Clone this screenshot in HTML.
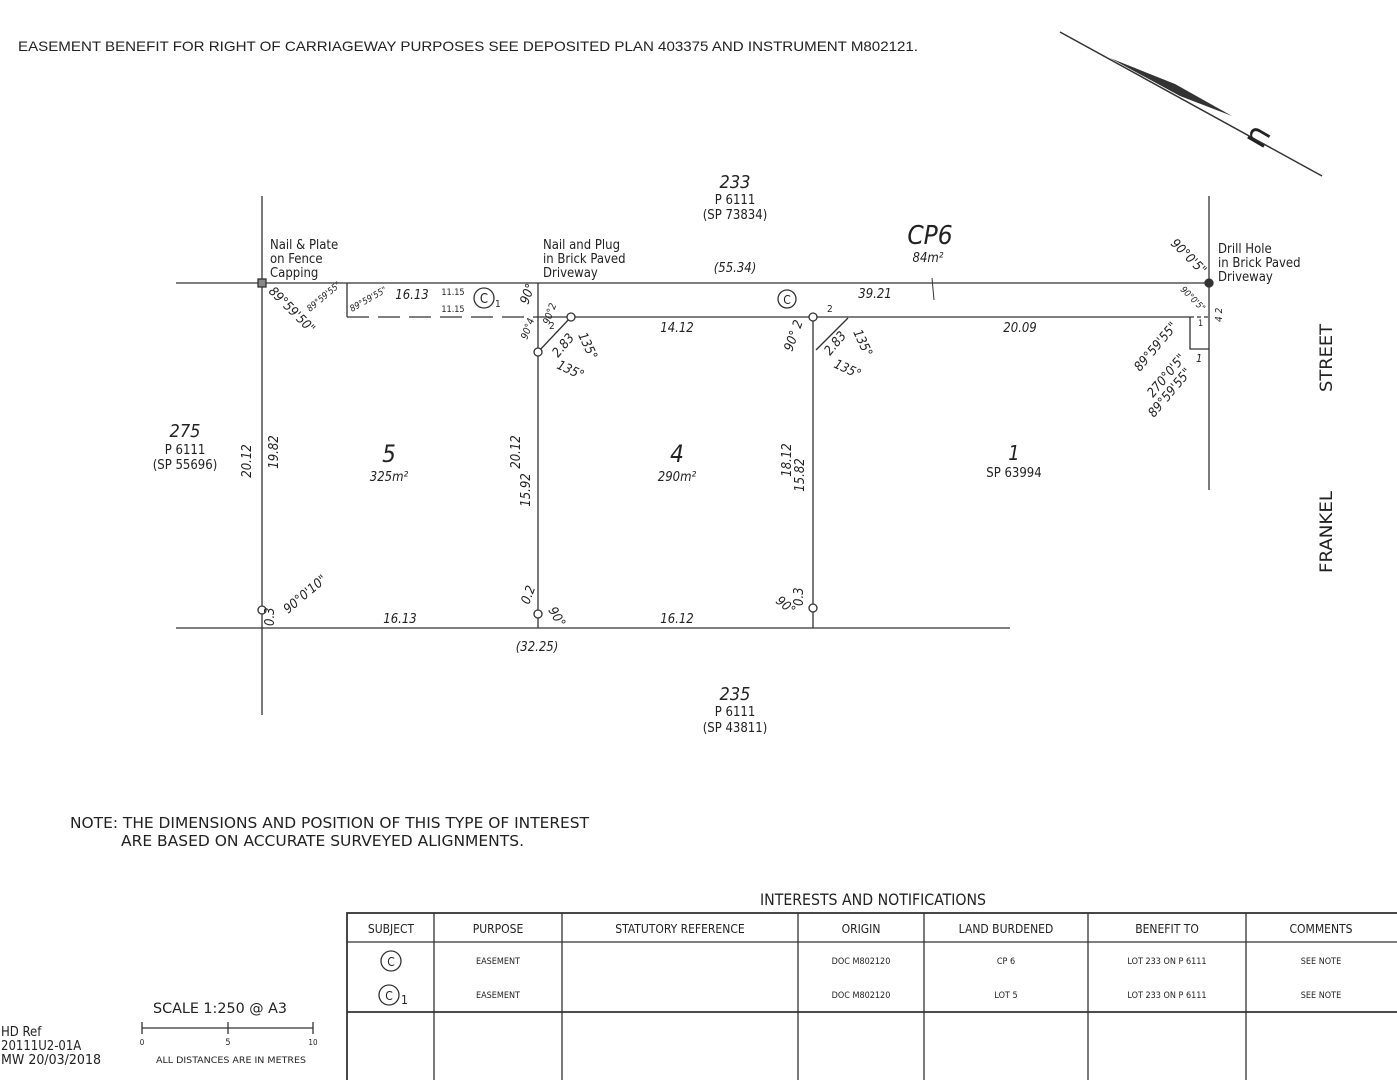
<!DOCTYPE html>
<html><head><meta charset="utf-8"><style>
html,body{margin:0;padding:0;background:#fff;}
svg{display:block;}
text{font-family:"DejaVu Sans Condensed","Liberation Sans Narrow","Liberation Sans",sans-serif;fill:#222;}
.i{font-style:italic;}
</style></head><body>
<svg width="1397" height="1080" viewBox="0 0 1397 1080" xmlns="http://www.w3.org/2000/svg">
<g stroke="#333" fill="none" stroke-width="1.3">
<line x1="176" y1="283" x2="1210" y2="283"/>
<line x1="262" y1="196" x2="262" y2="715"/>
<line x1="1209" y1="196" x2="1209" y2="490"/>
<line x1="176" y1="628" x2="1010" y2="628"/>
<line x1="538" y1="283" x2="538" y2="628"/>
<line x1="813" y1="317" x2="813" y2="628"/>
<line x1="538" y1="317" x2="1190" y2="317"/>
<line x1="347" y1="317" x2="538" y2="317" stroke-dasharray="22,9"/>
<line x1="347" y1="283" x2="347" y2="317"/>
<polyline points="1190,317 1190,349 1209,349"/>
<line x1="1190" y1="317" x2="1209" y2="317" stroke-dasharray="4,3"/>
<line x1="538" y1="352" x2="571" y2="317"/>
<line x1="816" y1="350" x2="848" y2="318"/>
<line x1="932" y1="278" x2="934" y2="300" stroke-width="1"/>
<rect x="258" y="279" width="8" height="8" fill="#888"/>
<circle cx="538" cy="352" r="4" fill="#fff"/>
<circle cx="571" cy="317" r="4" fill="#fff"/>
<circle cx="813" cy="317" r="4" fill="#fff"/>
<circle cx="262" cy="610" r="4" fill="#fff"/>
<circle cx="538" cy="614" r="4" fill="#fff"/>
<circle cx="813" cy="608" r="4" fill="#fff"/>
<circle cx="1209" cy="283" r="4" fill="#333"/>
<circle cx="484" cy="298" r="10"/>
<circle cx="787" cy="299" r="9"/>
<line x1="1060" y1="32" x2="1322" y2="176" stroke-width="1.5"/>
<line x1="142" y1="1028" x2="313" y2="1028"/>
<line x1="142" y1="1022" x2="142" y2="1034"/>
<line x1="228" y1="1022" x2="228" y2="1034"/>
<line x1="313" y1="1022" x2="313" y2="1034"/>
<rect x="347" y="913" width="1052" height="170" stroke-width="1.8"/>
<line x1="347" y1="942" x2="1397" y2="942"/>
<line x1="347" y1="1012" x2="1397" y2="1012" stroke-width="1.8"/>
<line x1="434" y1="913" x2="434" y2="1080"/>
<line x1="562" y1="913" x2="562" y2="1080"/>
<line x1="798" y1="913" x2="798" y2="1080"/>
<line x1="924" y1="913" x2="924" y2="1080"/>
<line x1="1088" y1="913" x2="1088" y2="1080"/>
<line x1="1246" y1="913" x2="1246" y2="1080"/>
<circle cx="391" cy="961" r="10"/>
<circle cx="389" cy="995" r="10"/>
</g>
<polygon points="1110,58 1175,84 1232,116 1180,96" fill="#333"/>
<text x="1248" y="150" font-size="34" transform="rotate(-60 1255 138)">n</text>

<text x="18" y="51" font-size="14" textLength="900" lengthAdjust="spacingAndGlyphs" style="font-family:'Liberation Sans',sans-serif">EASEMENT BENEFIT FOR RIGHT OF CARRIAGEWAY PURPOSES SEE DEPOSITED PLAN 403375 AND INSTRUMENT M802121.</text>

<g font-size="13">
<text x="735" y="188" font-size="18" class="i" text-anchor="middle">233</text>
<text x="735" y="204" text-anchor="middle">P 6111</text>
<text x="735" y="219" text-anchor="middle">(SP 73834)</text>
<text x="270" y="249">Nail &amp; Plate</text>
<text x="270" y="263">on Fence</text>
<text x="270" y="277">Capping</text>
<text x="543" y="249">Nail and Plug</text>
<text x="543" y="263">in Brick Paved</text>
<text x="543" y="277">Driveway</text>
<text x="1218" y="253">Drill Hole</text>
<text x="1218" y="267">in Brick Paved</text>
<text x="1218" y="281">Driveway</text>
<text x="930" y="244" font-size="26" class="i" text-anchor="middle">CP6</text>
<text x="928" y="262" class="i" text-anchor="middle">84m²</text>
<text x="735" y="272" class="i" text-anchor="middle">(55.34)</text>
<text x="875" y="298" class="i" text-anchor="middle">39.21</text>
<text x="412" y="299" class="i" text-anchor="middle">16.13</text>
<text x="453" y="295" font-size="9" text-anchor="middle">11.15</text>
<text x="453" y="312" font-size="9" text-anchor="middle">11.15</text>
<text x="484" y="303" font-size="13" text-anchor="middle">C</text>
<text x="495" y="307" font-size="10">1</text>
<text x="787" y="304" font-size="12" text-anchor="middle">C</text>
<text x="677" y="332" class="i" text-anchor="middle">14.12</text>
<text x="1020" y="332" class="i" text-anchor="middle">20.09</text>
<text x="185" y="437" font-size="18" class="i" text-anchor="middle">275</text>
<text x="185" y="454" text-anchor="middle">P 6111</text>
<text x="185" y="469" text-anchor="middle">(SP 55696)</text>
<text x="389" y="462" font-size="24" class="i" text-anchor="middle">5</text>
<text x="389" y="481" class="i" text-anchor="middle">325m²</text>
<text x="677" y="462" font-size="24" class="i" text-anchor="middle">4</text>
<text x="677" y="481" class="i" text-anchor="middle">290m²</text>
<text x="1014" y="460" font-size="20" class="i" text-anchor="middle">1</text>
<text x="1014" y="477" text-anchor="middle">SP 63994</text>
<text x="400" y="623" class="i" text-anchor="middle">16.13</text>
<text x="677" y="623" class="i" text-anchor="middle">16.12</text>
<text x="537" y="651" class="i" text-anchor="middle">(32.25)</text>
<text x="735" y="700" font-size="18" class="i" text-anchor="middle">235</text>
<text x="735" y="716" text-anchor="middle">P 6111</text>
<text x="735" y="732" text-anchor="middle">(SP 43811)</text>
<text transform="translate(251 461) rotate(-90)" class="i" text-anchor="middle">20.12</text>
<text transform="translate(278 452) rotate(-90)" class="i" text-anchor="middle">19.82</text>
<text transform="translate(520 452) rotate(-90)" class="i" text-anchor="middle">20.12</text>
<text transform="translate(530 490) rotate(-90)" class="i" text-anchor="middle">15.92</text>
<text transform="translate(791 460) rotate(-90)" class="i" text-anchor="middle">18.12</text>
<text transform="translate(804 475) rotate(-90)" class="i" text-anchor="middle">15.82</text>
<text transform="translate(1332 358) rotate(-90)" font-size="17" text-anchor="middle" textLength="68" lengthAdjust="spacingAndGlyphs">STREET</text>
<text transform="translate(1332 532) rotate(-90)" font-size="17" text-anchor="middle" textLength="82" lengthAdjust="spacingAndGlyphs">FRANKEL</text>
<text transform="translate(268 292) rotate(45)" class="i">89°59'50"</text>
<text transform="translate(310 312) rotate(-40)" font-size="9" class="i">89°59'55"</text>
<text transform="translate(352 312) rotate(-30)" font-size="9" class="i">89°59'55"</text>
<text transform="translate(528 305) rotate(-70)" class="i">90°</text>
<text transform="translate(527 340) rotate(-70)" font-size="10" class="i">90°4</text>
<text transform="translate(549 325) rotate(-70)" font-size="10" class="i">90°2</text>
<text x="549" y="329" font-size="10">2</text>
<text transform="translate(558 358) rotate(-50)" class="i">2.83</text>
<text transform="translate(578 335) rotate(65)" class="i">135°</text>
<text transform="translate(556 368) rotate(25)" class="i">135°</text>
<text transform="translate(792 352) rotate(-70)" class="i">90° 2</text>
<text x="827" y="312" font-size="10">2</text>
<text transform="translate(830 356) rotate(-50)" class="i">2.83</text>
<text transform="translate(853 332) rotate(65)" class="i">135°</text>
<text transform="translate(833 367) rotate(25)" class="i">135°</text>
<text transform="translate(1170 244) rotate(45)" class="i">90°0'5"</text>
<text transform="translate(1180 290) rotate(45)" font-size="9" class="i">90°0'5"</text>
<text transform="translate(1222 322) rotate(-90)" font-size="10" class="i">4 2</text>
<text x="1198" y="326" font-size="9">1</text>
<text x="1196" y="362" font-size="11" class="i">1</text>
<text transform="translate(1140 372) rotate(-50)" class="i">89°59'55"</text>
<text transform="translate(1153 398) rotate(-50)" class="i">270°0'5"</text>
<text transform="translate(1154 418) rotate(-50)" class="i">89°59'55"</text>
<text transform="translate(274 626) rotate(-90)" class="i">0.3</text>
<text transform="translate(288 614) rotate(-40)" class="i">90°0'10"</text>
<text transform="translate(529 605) rotate(-70)" class="i">0.2</text>
<text transform="translate(548 610) rotate(60)" class="i">90°</text>
<text transform="translate(803 606) rotate(-90)" class="i">0.3</text>
<text transform="translate(775 602) rotate(40)" class="i">90°</text>
<text x="70" y="828" font-size="15" textLength="519" lengthAdjust="spacingAndGlyphs">NOTE: THE DIMENSIONS AND POSITION OF THIS TYPE OF INTEREST</text>
<text x="121" y="846" font-size="15" textLength="403" lengthAdjust="spacingAndGlyphs">ARE BASED ON ACCURATE SURVEYED ALIGNMENTS.</text>
<text x="760" y="905" font-size="16" textLength="226" lengthAdjust="spacingAndGlyphs">INTERESTS AND NOTIFICATIONS</text>
<g font-size="12" text-anchor="middle">
<text x="391" y="933">SUBJECT</text>
<text x="498" y="933">PURPOSE</text>
<text x="680" y="933">STATUTORY REFERENCE</text>
<text x="861" y="933">ORIGIN</text>
<text x="1006" y="933">LAND BURDENED</text>
<text x="1167" y="933">BENEFIT TO</text>
<text x="1321" y="933">COMMENTS</text>
<text x="391" y="966">C</text>
<text x="389" y="1000">C</text>
</g>
<text x="401" y="1004" font-size="12">1</text>
<g font-size="9" text-anchor="middle">
<text x="498" y="964">EASEMENT</text>
<text x="498" y="998">EASEMENT</text>
<text x="861" y="964">DOC M802120</text>
<text x="861" y="998">DOC M802120</text>
<text x="1006" y="964">CP 6</text>
<text x="1006" y="998">LOT 5</text>
<text x="1167" y="964">LOT 233 ON P 6111</text>
<text x="1167" y="998">LOT 233 ON P 6111</text>
<text x="1321" y="964">SEE NOTE</text>
<text x="1321" y="998">SEE NOTE</text>
</g>
<text x="153" y="1013" font-size="14" textLength="134" lengthAdjust="spacingAndGlyphs">SCALE  1:250  @ A3</text>
<text x="142" y="1045" font-size="8" text-anchor="middle">0</text>
<text x="228" y="1045" font-size="9" text-anchor="middle">5</text>
<text x="313" y="1045" font-size="8" text-anchor="middle">10</text>
<text x="156" y="1063" font-size="9" textLength="150" lengthAdjust="spacingAndGlyphs">ALL DISTANCES ARE IN METRES</text>
<text x="1" y="1036" font-size="13">HD Ref</text>
<text x="1" y="1050" font-size="13">20111U2-01A</text>
<text x="1" y="1064" font-size="13" textLength="100" lengthAdjust="spacingAndGlyphs">MW 20/03/2018</text>
</g>
</svg>
</body></html>
